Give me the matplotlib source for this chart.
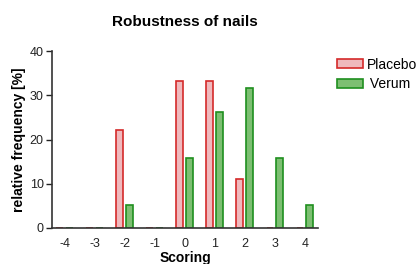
import matplotlib
matplotlib.use('Agg')
import matplotlib.pyplot as plt
import numpy as np
from matplotlib.patches import Patch

plt.rcParams['font.family'] = ['Liberation Sans', 'DejaVu Sans']

scores = [-4, -3, -2, -1, 0, 1, 2, 3, 4]
placebo = [0, 0, 22.2, 0, 33.3, 33.3, 11.1, 0, 0]
verum = [0, 0, 5.26, 0, 15.8, 26.3, 31.6, 15.8, 5.26]

red_fill = '#efb9bd'
red_edge = '#d42a2a'
green_fill = '#7dbf72'
green_edge = '#1f8f1f'

fig = plt.figure(figsize=(4.18, 2.64), dpi=100)
ax = fig.add_axes([52 / 418, 1 - 228 / 264, 266 / 418, 177 / 264])

x = np.array(scores, dtype=float)
w = 0.22
ax.bar(x - 0.165, placebo, width=w, color=red_fill, edgecolor=red_edge, linewidth=1.2)
ax.bar(x + 0.165, verum, width=w, color=green_fill, edgecolor=green_edge, linewidth=1.2)

ax.set_xlim(-4.42, 4.44)
ax.set_ylim(0, 40)
ax.set_yticks([0, 10, 20, 30, 40])
ax.set_xticks(scores)
ax.set_xticklabels([str(s) for s in scores])
ax.tick_params(axis='x', length=0, pad=7, labelsize=9, colors='#222222')
ax.tick_params(axis='y', length=4, width=1, labelsize=9, pad=2, colors='#222222')
for side in ['top', 'right']:
    ax.spines[side].set_visible(False)
for side in ['left', 'bottom']:
    ax.spines[side].set_color('#333333')
    ax.spines[side].set_linewidth(1.2)

ax.set_xlabel('Scoring', fontsize=10, fontweight='bold', labelpad=1)
ax.set_ylabel('relative frequency [%]', fontsize=10, fontweight='bold', labelpad=3)
fig.text(185 / 418, 1 - 22 / 264, 'Robustness of nails', fontsize=11, fontweight='bold',
         ha='center', va='center')

handles = [Patch(facecolor=red_fill, edgecolor=red_edge, linewidth=1.2, label='Placebo'),
           Patch(facecolor=green_fill, edgecolor=green_edge, linewidth=1.2, label=' Verum')]
fig.legend(handles=handles, loc='upper left', bbox_to_anchor=(331 / 418, 1 - 52 / 264),
           frameon=False, fontsize=10, handlelength=1.87, handleheight=0.65,
           handletextpad=0.28, labelspacing=0.4, borderaxespad=0)

fig.savefig('out.png', dpi=100)
